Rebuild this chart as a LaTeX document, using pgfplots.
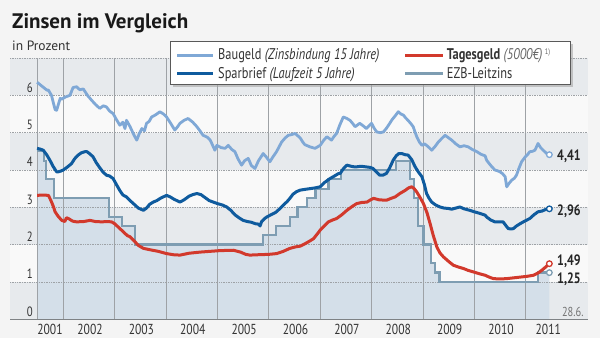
\documentclass[border=0pt]{standalone}
\usepackage{pgfplots}
\pgfplotsset{compat=1.18}
\usepackage{fontspec}
\setmainfont{PT Sans}[FakeStretch=0.8]
\newfontfamily\titlefont{PT Sans}
\definecolor{baug}{HTML}{7FA8D6}
\definecolor{spar}{HTML}{0F5B9E}
\definecolor{tag}{HTML}{D2392C}
\definecolor{ezb}{HTML}{7E9DB2}
\definecolor{ezbfill}{HTML}{D3DEE9}
\definecolor{bandg}{HTML}{E7EAED}
\definecolor{bandw}{HTML}{F9F9F9}
\definecolor{page}{HTML}{F4F4F4}
\definecolor{gridc}{HTML}{9EA2A6}
\definecolor{txt}{HTML}{333333}

\pgfplotstableread{
x y
2001.49 4.50
2001.62 4.25
2001.67 3.75
2001.82 3.25
2002.89 2.75
2003.14 2.50
2003.39 2.00
2005.89 2.25
2006.14 2.50
2006.41 2.75
2006.56 3.00
2006.74 3.25
2006.91 3.50
2007.16 3.75
2007.41 4.00
2008.48 4.25
2008.75 3.75
2008.82 3.25
2008.90 2.50
2009.01 2.00
2009.15 1.50
2009.23 1.25
2009.32 1.00
2011.24 1.25
2011.46 1.25
}\ezbdata

\pgfplotstableread{
x y
2001.49 6.35
2001.58 6.25
2001.68 6.14
2001.71 6.14
2001.77 6.00
2001.84 5.62
2001.87 5.60
2001.94 5.92
2001.97 5.90
2002.05 5.96
2002.13 6.00
2002.19 6.21
2002.26 6.23
2002.32 6.15
2002.39 6.17
2002.47 6.00
2002.55 5.87
2002.63 5.75
2002.71 5.65
2002.78 5.72
2002.84 5.69
2002.90 5.58
2002.97 5.51
2003.03 5.36
2003.10 5.20
2003.16 5.28
2003.20 5.11
2003.23 5.33
2003.30 5.16
2003.37 4.95
2003.43 4.80
2003.48 4.98
2003.53 5.11
2003.58 5.05
2003.62 5.25
2003.67 5.30
2003.72 5.42
2003.80 5.48
2003.88 5.56
2003.95 5.50
2004.01 5.42
2004.09 5.25
2004.17 5.07
2004.22 5.15
2004.27 5.25
2004.35 5.33
2004.43 5.38
2004.52 5.28
2004.60 5.16
2004.66 5.05
2004.72 4.93
2004.80 4.88
2004.86 4.80
2004.92 4.62
2004.95 4.53
2004.99 4.66
2005.07 4.60
2005.15 4.58
2005.21 4.66
2005.28 4.55
2005.34 4.49
2005.40 4.30
2005.47 4.13
2005.53 4.25
2005.60 4.31
2005.66 4.12
2005.73 4.04
2005.80 4.25
2005.89 4.44
2005.95 4.35
2006.02 4.22
2006.08 4.35
2006.15 4.49
2006.20 4.62
2006.25 4.75
2006.32 4.86
2006.38 4.93
2006.45 4.95
2006.51 4.98
2006.56 4.92
2006.61 4.86
2006.66 4.75
2006.70 4.68
2006.80 4.62
2006.90 4.58
2006.95 4.62
2007.00 4.66
2007.07 4.80
2007.13 4.89
2007.18 4.84
2007.22 4.80
2007.27 4.90
2007.32 4.98
2007.38 5.20
2007.45 5.42
2007.52 5.38
2007.58 5.33
2007.63 5.25
2007.68 5.16
2007.72 5.20
2007.77 5.25
2007.84 5.18
2007.90 5.11
2007.95 5.18
2008.00 5.25
2008.05 5.12
2008.10 5.02
2008.17 5.00
2008.23 5.02
2008.28 5.10
2008.33 5.20
2008.40 5.35
2008.46 5.45
2008.52 5.56
2008.57 5.50
2008.62 5.47
2008.66 5.40
2008.71 5.33
2008.76 5.25
2008.81 5.16
2008.85 5.00
2008.88 4.89
2008.93 4.75
2008.98 4.66
2009.03 4.70
2009.07 4.66
2009.12 4.60
2009.17 4.53
2009.23 4.62
2009.30 4.75
2009.37 4.85
2009.43 4.93
2009.50 4.86
2009.56 4.80
2009.64 4.70
2009.72 4.62
2009.80 4.65
2009.88 4.62
2009.96 4.55
2010.05 4.49
2010.13 4.42
2010.21 4.38
2010.24 4.26
2010.32 4.12
2010.40 4.00
2010.45 3.98
2010.50 3.95
2010.55 3.90
2010.60 3.82
2010.63 3.55
2010.68 3.65
2010.73 3.73
2010.78 3.78
2010.82 3.86
2010.87 4.05
2010.92 4.22
2010.99 4.35
2011.04 4.42
2011.08 4.49
2011.13 4.50
2011.18 4.53
2011.21 4.62
2011.24 4.71
2011.29 4.60
2011.34 4.53
2011.40 4.45
2011.46 4.41
}\baugdata

\pgfplotstableread{
x y
2001.49 4.58
2001.55 4.56
2001.61 4.53
2001.68 4.40
2001.74 4.26
2001.80 4.10
2001.87 3.95
2001.90 3.95
2001.95 3.97
2002.00 4.00
2002.08 4.08
2002.16 4.17
2002.22 4.30
2002.29 4.40
2002.35 4.46
2002.42 4.49
2002.46 4.49
2002.52 4.43
2002.58 4.35
2002.64 4.20
2002.71 4.06
2002.77 3.95
2002.84 3.86
2002.90 3.84
2002.97 3.77
2003.03 3.62
2003.10 3.45
2003.16 3.33
2003.23 3.28
2003.30 3.18
2003.38 3.08
2003.46 2.98
2003.56 2.92
2003.62 2.98
2003.68 3.08
2003.75 3.14
2003.82 3.18
2003.90 3.25
2004.01 3.32
2004.08 3.28
2004.15 3.22
2004.27 3.14
2004.35 3.20
2004.45 3.30
2004.52 3.34
2004.60 3.37
2004.68 3.34
2004.76 3.26
2004.84 3.18
2004.92 3.14
2005.00 3.10
2005.10 3.06
2005.18 3.01
2005.26 2.92
2005.34 2.80
2005.42 2.72
2005.50 2.65
2005.58 2.62
2005.66 2.60
2005.74 2.56
2005.80 2.55
2005.83 2.50
2005.86 2.62
2005.92 2.70
2005.96 2.74
2006.04 2.80
2006.13 2.86
2006.22 2.97
2006.30 3.08
2006.36 3.16
2006.41 3.24
2006.47 3.35
2006.54 3.42
2006.61 3.46
2006.70 3.48
2006.80 3.50
2006.90 3.52
2007.00 3.55
2007.08 3.66
2007.14 3.72
2007.19 3.77
2007.28 3.84
2007.35 3.90
2007.39 3.91
2007.46 4.05
2007.52 4.13
2007.60 4.10
2007.68 4.08
2007.80 4.10
2007.91 4.08
2007.97 4.07
2008.03 4.04
2008.10 3.94
2008.16 3.86
2008.22 3.86
2008.29 3.91
2008.35 4.05
2008.42 4.26
2008.48 4.38
2008.53 4.44
2008.59 4.44
2008.65 4.41
2008.71 4.40
2008.78 4.28
2008.85 4.08
2008.91 3.95
2008.98 3.82
2009.03 3.60
2009.07 3.37
2009.12 3.24
2009.17 3.14
2009.25 3.06
2009.33 3.01
2009.41 2.98
2009.49 2.97
2009.56 2.95
2009.64 2.98
2009.72 3.01
2009.80 2.96
2009.91 2.92
2010.00 2.88
2010.10 2.84
2010.21 2.79
2010.24 2.74
2010.32 2.66
2010.40 2.61
2010.48 2.61
2010.56 2.61
2010.62 2.50
2010.66 2.43
2010.72 2.42
2010.76 2.43
2010.82 2.50
2010.89 2.56
2010.98 2.63
2011.08 2.70
2011.16 2.80
2011.24 2.88
2011.32 2.90
2011.40 2.95
2011.46 2.96
}\spardata

\pgfplotstableread{
x y
2001.49 3.32
2001.60 3.33
2001.71 3.32
2001.76 3.18
2001.81 3.01
2001.84 2.88
2001.90 2.76
2001.97 2.65
2002.03 2.62
2002.06 2.72
2002.10 2.70
2002.18 2.63
2002.26 2.61
2002.40 2.62
2002.52 2.65
2002.62 2.62
2002.75 2.61
2002.85 2.62
2002.94 2.61
2003.00 2.56
2003.07 2.47
2003.14 2.38
2003.20 2.30
2003.25 2.24
2003.30 2.21
2003.38 2.10
2003.46 1.98
2003.56 1.90
2003.70 1.86
2003.85 1.82
2004.01 1.76
2004.14 1.73
2004.27 1.72
2004.45 1.77
2004.66 1.80
2004.85 1.82
2005.05 1.84
2005.31 1.85
2005.45 1.80
2005.55 1.74
2005.63 1.72
2005.80 1.73
2006.00 1.74
2006.15 1.76
2006.28 1.82
2006.41 1.90
2006.52 1.94
2006.61 1.96
2006.70 2.02
2006.80 2.10
2006.87 2.16
2006.94 2.28
2007.00 2.39
2007.08 2.50
2007.16 2.61
2007.24 2.66
2007.32 2.70
2007.42 2.80
2007.52 2.92
2007.62 3.02
2007.71 3.10
2007.81 3.13
2007.91 3.14
2007.98 3.20
2008.04 3.24
2008.15 3.20
2008.29 3.19
2008.38 3.24
2008.46 3.28
2008.55 3.37
2008.65 3.45
2008.72 3.52
2008.78 3.55
2008.83 3.50
2008.88 3.41
2008.95 3.25
2009.01 3.10
2009.08 2.85
2009.14 2.56
2009.20 2.25
2009.27 1.94
2009.33 1.78
2009.40 1.67
2009.50 1.55
2009.59 1.45
2009.69 1.40
2009.79 1.36
2009.88 1.31
2009.98 1.27
2010.10 1.22
2010.21 1.18
2010.29 1.13
2010.37 1.09
2010.50 1.08
2010.63 1.09
2010.76 1.11
2010.89 1.13
2011.02 1.15
2011.15 1.18
2011.24 1.24
2011.31 1.31
2011.38 1.39
2011.46 1.49
}\tagdata

\begin{document}
\begin{tikzpicture}[x=1pt,y=1pt]
\fill[page] (0,0) rectangle (600,338);
\path[use as bounding box] (0,0) rectangle (600,338);
\begin{axis}[
  at={(10pt,18.7pt)}, anchor=south west,
  scale only axis, width=578pt, height=261.3pt,
  xmin=2000.9626, xmax=2012.2125, ymin=0, ymax=7,
  axis on top,
  axis line style={draw=none},
  major tick length=0pt,
  /pgf/number format/assume math mode=true,
  xtick={2001.74,2002.52,2003.52,2004.52,2005.52,2006.52,2007.52,2008.52,2009.52,2010.52,2011.44},
  xticklabels={2001,2002,2003,2004,2005,2006,2007,2008,2009,2010,2011},
  xticklabel style={font=\fontsize{14.5}{14.5}\selectfont, text=txt, inner sep=0pt, anchor=base, yshift=-15.3pt},
  ytick={0,1,2,3,4,5,6},
  yticklabels={0,1,2,3,4,5,6},
  yticklabel style={font=\fontsize{13.5}{13.5}\selectfont, text=txt, inner sep=0pt, anchor=base east, xshift=23pt, yshift=3pt},
  tick style={draw=none},
]
% background bands
\fill[bandw] (axis cs:2000.9626,0) rectangle (axis cs:2012.2125,7);
\fill[bandg] (axis cs:2000.9626,6) rectangle (axis cs:2012.2125,7);
\fill[bandg] (axis cs:2000.9626,4) rectangle (axis cs:2012.2125,5);
\fill[bandg] (axis cs:2000.9626,2) rectangle (axis cs:2012.2125,3);
\fill[bandg] (axis cs:2000.9626,0) rectangle (axis cs:2012.2125,1);
% EZB area
\addplot[draw=none, fill=ezbfill, fill opacity=0.9, const plot] table[x=x,y=y] {\ezbdata} \closedcycle;
% grid
\pgfplotsinvokeforeach{1,...,7}{
  \draw[gridc, line width=0.7pt, dash pattern=on 1pt off 0.7pt] (axis cs:2000.9626,#1) -- (axis cs:2012.2125,#1);
}
\pgfplotsinvokeforeach{2001.49,2002,2003,2004,2005,2006,2007,2008,2009,2010,2011}{
  \draw[gridc, line width=0.7pt] (axis cs:#1,0) -- (axis cs:#1,7);
}
\draw[gridc!80!black, line width=0.8pt] (axis cs:2000.9626,0) -- (axis cs:2012.2125,0);
% series
\addplot[ezb, line width=2.3pt, const plot] table[x=x,y=y] {\ezbdata};
\addplot[baug, line width=2.8pt, line join=round] table[x=x,y=y] {\baugdata};
\addplot[spar, line width=3pt, line join=round] table[x=x,y=y] {\spardata};
\addplot[tag, line width=3pt, line join=round] table[x=x,y=y] {\tagdata};
% end markers
\addplot[only marks, mark=*, mark size=2.8pt, mark options={fill=white, draw=baug, line width=1.3pt}] coordinates {(2011.46,4.41)};
\addplot[only marks, mark=*, mark size=2.8pt, mark options={fill=white, draw=spar, line width=1.3pt}] coordinates {(2011.46,2.96)};
\addplot[only marks, mark=*, mark size=2.8pt, mark options={fill=white, draw=ezb, line width=1.3pt}] coordinates {(2011.46,1.25)};
\addplot[only marks, mark=*, mark size=2.8pt, mark options={fill=white, draw=tag, line width=1.3pt}] coordinates {(2011.46,1.49)};
\end{axis}
% title
\node[anchor=base west, inner sep=0pt, text=black!90] at (12,309.7) {\titlefont\fontsize{21}{21}\selectfont\bfseries Zinsen im Vergleich};
\node[anchor=base west, inner sep=0pt, text=txt] at (12,287.3) {\titlefont\fontsize{13.5}{13.5}\selectfont in Prozent};
% value labels
\begin{scope}[every node/.style={anchor=base west, inner sep=0pt, text=black!85, font=\fontsize{15}{15}\selectfont\bfseries}]
\node at (557,178) {4,41};
\node at (557,123) {2,96};
\node at (557,73) {1,49};
\node at (557,55) {1,25};
\end{scope}
\node[anchor=base east, inner sep=0pt, text=black!55, font=\fontsize{13}{13}\selectfont] at (583.7,22) {28.6.};
% legend
\fill[black!35, opacity=0.6] (172.5,250.5) rectangle (572.5,293.5);
\filldraw[fill=white, draw=black!65, line width=1pt] (170,253) rectangle (570,296);
\draw[baug, line width=3pt] (177,282.7) -- (213,282.7);
\draw[spar, line width=3pt] (177,264) -- (213,264);
\draw[tag, line width=3pt] (405,282.7) -- (443,282.7);
\draw[ezb, line width=3pt] (405,264) -- (443,264);
\begin{scope}[every node/.style={anchor=base west, inner sep=0pt, text=txt, font=\fontsize{15.5}{15.5}\selectfont}]
\node at (218,278) {Baugeld \textit{(Zinsbindung 15 Jahre)}};
\node at (218,259.3) {Sparbrief \textit{(Laufzeit 5 Jahre)}};
\node at (446.7,278) {\textbf{Tagesgeld} \textcolor{black!60}{\textit{(5000€)}\,\raisebox{5pt}{\fontsize{8}{8}\selectfont 1)}}};
\node at (446.7,259.3) {EZB-Leitzins};
\end{scope}
\end{tikzpicture}
\end{document}
